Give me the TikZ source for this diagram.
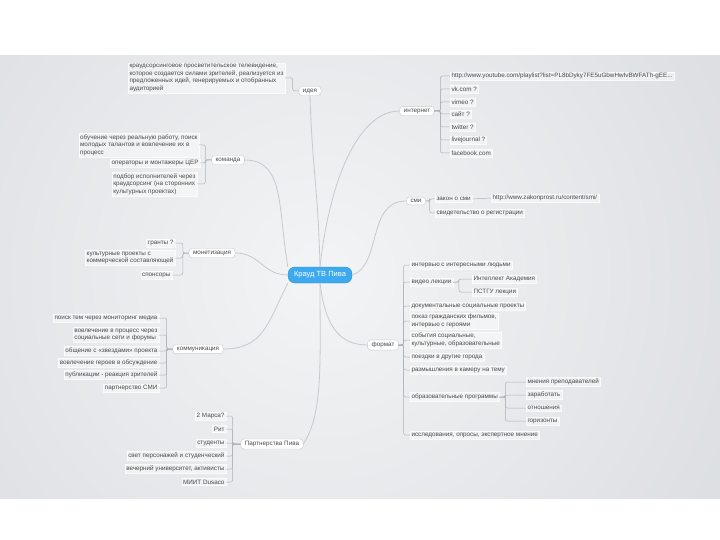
\documentclass[tikz,border=0pt]{standalone}
\usepackage{fontspec}
\setmainfont{Liberation Sans}
\definecolor{bgin}{HTML}{F3F4F5}
\definecolor{bgout}{HTML}{D9DCE0}
\definecolor{inkgray}{HTML}{4A4A4A}
\definecolor{wire}{HTML}{AEB3B9}
\definecolor{hubblue}{HTML}{3DA9EE}
\begin{document}
\begin{tikzpicture}[
        x=1pt, y=-1pt,
        font=\fontsize{6.3}{7.4}\selectfont,
        leaf/.style={
            fill=white, fill opacity=0.45, text opacity=1,
            draw=white, draw opacity=0.8, line width=0.3pt,
            text=inkgray, inner sep=1.4pt, align=left,
        },
        topic/.style={
            fill=white, draw=wire!70, rounded corners=3pt,
            text=inkgray, inner xsep=4pt, inner ysep=2.2pt,
        },
        hub/.style={
            fill=hubblue, draw=hubblue!85!black, rounded corners=7pt,
            text=white, font=\fontsize{7.5}{9}\selectfont,
            minimum width=64pt, minimum height=16pt,
        },
        branch/.style={draw=wire, line width=0.5pt, rounded corners=2pt},
        spoke/.style={draw=wire!70, line width=0.8pt},
    ]
    \useasboundingbox (0,0) rectangle (720,540);
    \begin{scope}
        \clip (0,56) rectangle (720,498);
        \shade[inner color=bgin, outer color=bgout] (320,275) circle (520);
    \end{scope}

    \node[hub] (hub) at (320,275) {Крауд ТВ Пива};

    \node[topic] (idea) at (310,91) {идея};
    \node[topic] (team) at (228,160) {команда};
    \node[topic] (money) at (212,253) {монетизация};
    \node[topic] (talk) at (198,349) {коммуникация};
    \node[topic] (partners) at (272,444) {Партнерства Пива};
    \node[topic] (net) at (417,111) {интернет};
    \node[topic] (media) at (416,201) {сми};
    \node[topic] (format) at (383,345) {формат};

    \draw[spoke] (hub.north) .. controls +(-2,-80) and +(2,70) .. (idea.south);
    \draw[spoke] (hub.north) .. controls +(10,-90) and +(-40,0) .. (net.west);
    \draw[spoke] (hub.east) .. controls +(30,-10) and +(-40,0) .. (media.west);
    \draw[spoke] (hub.south) .. controls +(5,40) and +(-30,0) .. (format.west);
    \draw[spoke] (hub.south) .. controls +(0,80) and +(20,-30) .. (partners.east);
    \draw[spoke] (hub.south west) .. controls +(-20,40) and +(40,0) .. (talk.east);
    \draw[spoke] (hub.west) .. controls +(-25,0) and +(25,0) .. (money.east);
    \draw[spoke] (hub.north west) .. controls +(-10,-60) and +(40,0) .. (team.east);

    \node[leaf, anchor=east] (idea1) at (285,78) {краудсорсинговое просветительское телевидение,\\ которое создается силами зрителей, реализуется из\\ предложенных идей, генерируемых и отобранных\\ аудиторией};

    \node[leaf, anchor=east] (team1) at (199,145) {обучение через реальную работу, поиск\\ молодых талантов и вовлечение их в\\ процесс};
    \node[leaf, anchor=east] (team2) at (200,163) {операторы и монтажеры ЦЕР};
    \node[leaf, anchor=east] (team3) at (197,184) {подбор исполнителей через\\ краудсорсинг (на сторонних\\ культурных проектах)};

    \node[leaf, anchor=east] (money1) at (175,243) {гранты ?};
    \node[leaf, anchor=east] (money2) at (175,258) {культурные проекты с\\ коммерческой составляющей};
    \node[leaf, anchor=east] (money3) at (172,275) {спонсоры};

    \node[leaf, anchor=east] (talk1) at (159,318) {поиск тем через мониторинг медиа};
    \node[leaf, anchor=east] (talk2) at (159,335) {вовлечение в процесс через\\ социальные сети и форумы};
    \node[leaf, anchor=east] (talk3) at (159,351) {общение с «звездами» проекта};
    \node[leaf, anchor=east] (talk4) at (159,363) {вовлечение героев в обсуждение};
    \node[leaf, anchor=east] (talk5) at (159,375) {публикации - реакция зрителей};
    \node[leaf, anchor=east] (talk6) at (159,388) {партнерство СМИ};

    \node[leaf, anchor=east] (partners1) at (226,416) {2 Марса?};
    \node[leaf, anchor=east] (partners2) at (226,429) {Рит};
    \node[leaf, anchor=east] (partners3) at (226,443) {студенты};
    \node[leaf, anchor=east] (partners4) at (226,456) {свет персонажей и студенческий};
    \node[leaf, anchor=east] (partners5) at (226,469) {вечерний университет, активисты};
    \node[leaf, anchor=east] (partners6) at (226,482) {МИИТ Dusaco};

    \node[leaf, anchor=west] (net1) at (450,76) {http://www.youtube.com/playlist?list=PL8bDyky7FE5uGbwHwIvBWFATh-gEE...};
    \node[leaf, anchor=west] (net2) at (450,89) {vk.com ?};
    \node[leaf, anchor=west] (net3) at (450,102) {vimeo ?};
    \node[leaf, anchor=west] (net4) at (450,114) {сайт ?};
    \node[leaf, anchor=west] (net5) at (450,127) {twitter ?};
    \node[leaf, anchor=west] (net6) at (450,140) {livejournal ?};
    \node[leaf, anchor=west] (net7) at (450,153) {facebook.com};

    \node[leaf, anchor=west] (media1) at (435,199) {закон о сми};
    \node[leaf, anchor=west] (media2) at (435,213) {свидетельство о регистрации};
    \node[leaf, anchor=west] (law) at (491,198) {http://www.zakonprost.ru/content/smi/};

    \node[leaf, anchor=west] (format1) at (410,265) {интервью с интересными людьми};
    \node[leaf, anchor=west] (format2) at (410,282) {видео лекции};
    \node[leaf, anchor=west] (format3) at (410,306) {документальные социальные проекты};
    \node[leaf, anchor=west] (format4) at (410,321) {показ гражданских фильмов,\\ интервью с героями};
    \node[leaf, anchor=west] (format5) at (410,340) {события социальные,\\ культурные, образовательные};
    \node[leaf, anchor=west] (format6) at (410,357) {поездки в другие города};
    \node[leaf, anchor=west] (format7) at (410,370) {размышления в камеру на тему};
    \node[leaf, anchor=west] (format8) at (410,397) {образовательные программы};
    \node[leaf, anchor=west] (format9) at (410,435) {исследования, опросы, экспертное мнение};

    \node[leaf, anchor=west] (video1) at (472,279) {Интеллект Академия};
    \node[leaf, anchor=west] (video2) at (472,292) {ПСТГУ лекции};

    \node[leaf, anchor=west] (edu1) at (526,382) {мнения преподавателей};
    \node[leaf, anchor=west] (edu2) at (526,395) {заработать};
    \node[leaf, anchor=west] (edu3) at (526,408) {отношения};
    \node[leaf, anchor=west] (edu4) at (526,421) {горизонты};

    \draw[branch] (idea.west) -- ++(-6,0) |- (idea1.east);
    \foreach \c in {team1,team2,team3}
        \draw[branch] (team.west) -- ++(-6,0) |- (\c.east);
    \foreach \c in {money1,money2,money3}
        \draw[branch] (money.west) -- ++(-6,0) |- (\c.east);
    \foreach \c in {talk1,talk2,talk3,talk4,talk5,talk6}
        \draw[branch] (talk.west) -- ++(-6,0) |- (\c.east);
    \foreach \c in {partners1,partners2,partners3,partners4,partners5,partners6}
        \draw[branch] (partners.west) -- ++(-8,0) |- (\c.east);
    \foreach \c in {net1,net2,net3,net4,net5,net6,net7}
        \draw[branch] (net.east) -- ++(6,0) |- (\c.west);
    \foreach \c in {media1,media2}
        \draw[branch] (media.east) -- ++(4,0) |- (\c.west);
    \draw[branch] (media1.east) -- (law.west);
    \foreach \c in {format1,format2,format3,format4,format5,format6,format7,format8,format9}
        \draw[branch] (format.east) -- ++(5,0) |- (\c.west);
    \foreach \c in {video1,video2}
        \draw[branch] (format2.east) -- ++(6,0) |- (\c.west);
    \foreach \c in {edu1,edu2,edu3,edu4}
        \draw[branch] (format8.east) -- ++(6,0) |- (\c.west);
\end{tikzpicture}
\end{document}
